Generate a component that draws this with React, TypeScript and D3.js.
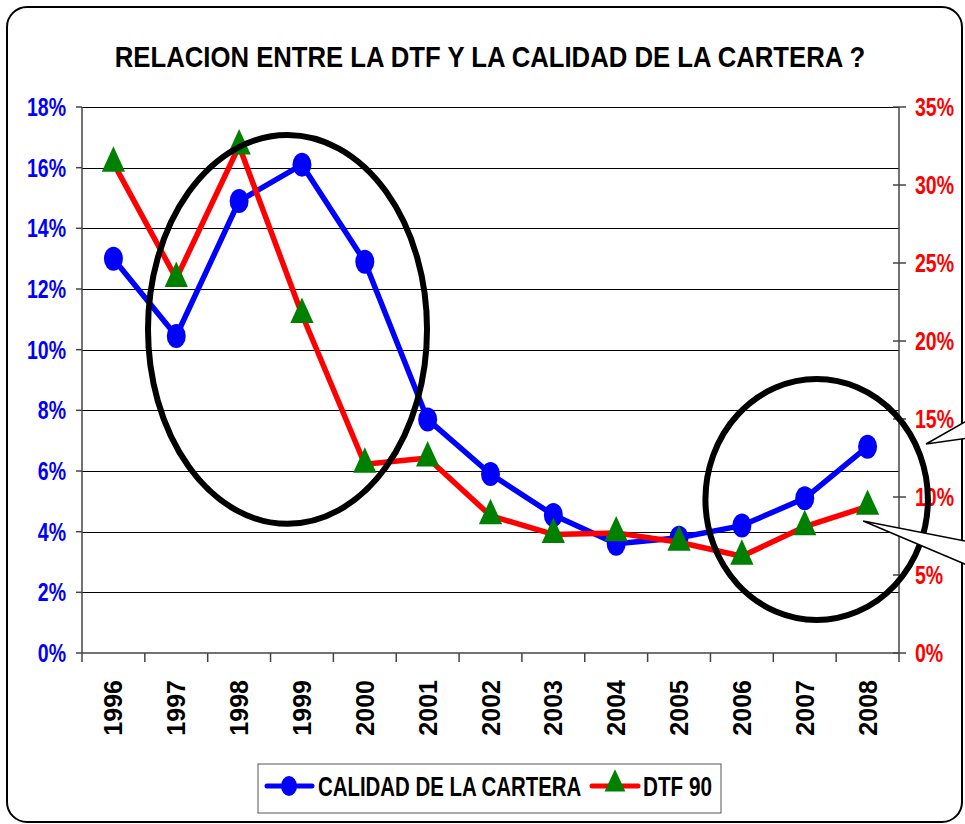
import * as d3 from 'd3';

const years = ['1996', '1997', '1998', '1999', '2000', '2001', '2002', '2003', '2004', '2005', '2006', '2007', '2008'];
const calidad = [13.0, 10.45, 14.9, 16.1, 12.9, 7.7, 5.9, 4.55, 3.6, 3.8, 4.2, 5.1, 6.8];
const dtf90 = [31.4, 24.0, 32.5, 21.7, 12.1, 12.5, 8.8, 7.6, 7.7, 7.1, 6.2, 8.1, 9.4];
const leftTicks = [0, 2, 4, 6, 8, 10, 12, 14, 16, 18];
const rightTicks = [0, 5, 10, 15, 20, 25, 30, 35];

// annotation ellipses, in category index / left-axis % units
const rings = [
  { cx: 2.77, cy: 10.67, rx: 2.22, ry: 6.41 },
  { cx: 11.19, cy: 5.06, rx: 1.77, ry: 3.97 },
];
// callout balloons coming in from the right edge
const callouts = [
  { tip: [12.93, 6.89], a: [13.7, 7.8], b: [13.7, 7.12] },
  { tip: [11.93, 4.35], a: [13.7, 3.63], b: [13.7, 2.8] },
];

const W = 965;
const H = 824;
const plot = { left: 82, right: 899, top: 107, bottom: 653 };
const FONT = '"Liberation Sans", Arial, sans-serif';
const NARROW = 0.78; // Excel used a condensed bold face

export default function App() {
  const x = d3.scaleBand<string>().domain(years).range([plot.left, plot.right]).paddingInner(0).paddingOuter(0);
  const bw = x.bandwidth();
  const cxAt = (i: number) => plot.left + bw * (i + 0.5);
  const yL = d3.scaleLinear().domain([0, 18]).range([plot.bottom, plot.top]);
  const yR = d3.scaleLinear().domain([0, 35]).range([plot.bottom, plot.top]);

  const lineL = d3.line<number>().x((_, i) => cxAt(i)).y((d) => yL(d));
  const lineR = d3.line<number>().x((_, i) => cxAt(i)).y((d) => yR(d));

  const tri = d3.symbol().type(d3.symbolTriangle).size(260)();

  return (
    <svg width={W} height={H} style={{ position: 'absolute', left: 0, top: 0, background: '#fff' }}>
      <rect x={7} y={7} width={955} height={815} rx={20} ry={20} fill="#fff" stroke="#000" strokeWidth={2} />

      <g transform="translate(490,67) scale(0.857,1)">
        <text textAnchor="middle" fontFamily={FONT} fontWeight="bold" fontSize={30}>
          RELACION ENTRE LA DTF Y LA CALIDAD DE LA CARTERA ?
        </text>
      </g>

      {/* gridlines */}
      {leftTicks.slice(1).map((t) => (
        <line key={t} x1={plot.left} x2={plot.right} y1={Math.round(yL(t)) + 0.5} y2={Math.round(yL(t)) + 0.5}
          stroke="#000" strokeWidth={1} />
      ))}

      {/* left axis */}
      <line x1={plot.left} x2={plot.left} y1={plot.top} y2={plot.bottom} stroke="#444" strokeWidth={1.5} />
      {leftTicks.map((t) => (
        <g key={t}>
          <line x1={plot.left - 6} x2={plot.left} y1={yL(t)} y2={yL(t)} stroke="#444" strokeWidth={1.5} />
          <g transform={`translate(66,${yL(t)}) scale(${NARROW},1)`}>
            <text dy="0.36em" textAnchor="end" fill="#0000ff" fontFamily={FONT} fontWeight="bold" fontSize={25}>{t}%</text>
          </g>
        </g>
      ))}

      {/* right axis */}
      <line x1={plot.right} x2={plot.right} y1={plot.top} y2={plot.bottom} stroke="#444" strokeWidth={1.5} />
      {rightTicks.map((t) => (
        <g key={t}>
          <line x1={plot.right - 6} x2={plot.right + 7} y1={yR(t)} y2={yR(t)} stroke="#444" strokeWidth={1.5} />
          <g transform={`translate(915,${yR(t)}) scale(${NARROW},1)`}>
            <text dy="0.36em" textAnchor="start" fill="#ff0000" fontFamily={FONT} fontWeight="bold" fontSize={25}>{t}%</text>
          </g>
        </g>
      ))}

      {/* bottom axis */}
      <line x1={plot.left} x2={plot.right} y1={plot.bottom} y2={plot.bottom} stroke="#444" strokeWidth={1.5} />
      {years.map((yr) => (
        <line key={yr} x1={x(yr)!} x2={x(yr)!} y1={plot.bottom} y2={plot.bottom + 9} stroke="#444" strokeWidth={1.5} />
      ))}
      <line x1={plot.right} x2={plot.right} y1={plot.bottom} y2={plot.bottom + 9} stroke="#444" strokeWidth={1.5} />
      {years.map((yr) => (
        <text key={yr} transform={`translate(${x(yr)! + bw / 2},680) rotate(-90)`} dy="0.36em" textAnchor="end"
          fontFamily={FONT} fontWeight="bold" fontSize={25}>{yr}</text>
      ))}

      {/* series: calidad */}
      <path d={lineL(calidad)!} fill="none" stroke="#0000ff" strokeWidth={5.5} strokeLinejoin="round" />
      {calidad.map((v, i) => (
        <ellipse key={i} cx={cxAt(i)} cy={yL(v)} rx={9.5} ry={12} fill="#0000ff" />
      ))}

      {/* series: DTF 90 */}
      <path d={lineR(dtf90)!} fill="none" stroke="#ff0000" strokeWidth={5.5} strokeLinejoin="round" />
      {dtf90.map((v, i) => (
        <path key={i} d={tri!} transform={`translate(${cxAt(i)},${yR(v)}) scale(0.95,1.2)`} fill="#008000" />
      ))}

      {/* annotations */}
      {rings.map((r, i) => (
        <ellipse key={i} cx={cxAt(r.cx)} cy={yL(r.cy)} rx={r.rx * bw} ry={yL(0) - yL(r.ry)} fill="none"
          stroke="#000" strokeWidth={6} />
      ))}
      {callouts.map((c, i) => (
        <polygon key={i}
          points={[c.tip, c.a, c.b].map((p) => `${cxAt(p[0])},${yL(p[1])}`).join(' ')}
          fill="#fff" stroke="#000" strokeWidth={1.5} />
      ))}

      {/* legend */}
      <rect x={258} y={764} width={463} height={49} fill="#fff" stroke="#555" strokeWidth={1} />
      <line x1={267} x2={312} y1={786} y2={786} stroke="#0000ff" strokeWidth={5} strokeLinecap="round" />
      <ellipse cx={289} cy={786} rx={8} ry={10} fill="#0000ff" />
      <g transform="translate(318,796) scale(0.756,1)">
        <text fontFamily={FONT} fontWeight="bold" fontSize={27}>CALIDAD DE LA CARTERA</text>
      </g>
      <line x1={592} x2={638} y1={786} y2={786} stroke="#ff0000" strokeWidth={5} strokeLinecap="round" />
      <path d={tri!} transform="translate(615,784) scale(0.85,1.05)" fill="#008000" />
      <g transform="translate(643,796) scale(0.767,1)">
        <text fontFamily={FONT} fontWeight="bold" fontSize={27}>DTF 90</text>
      </g>
    </svg>
  );
}
